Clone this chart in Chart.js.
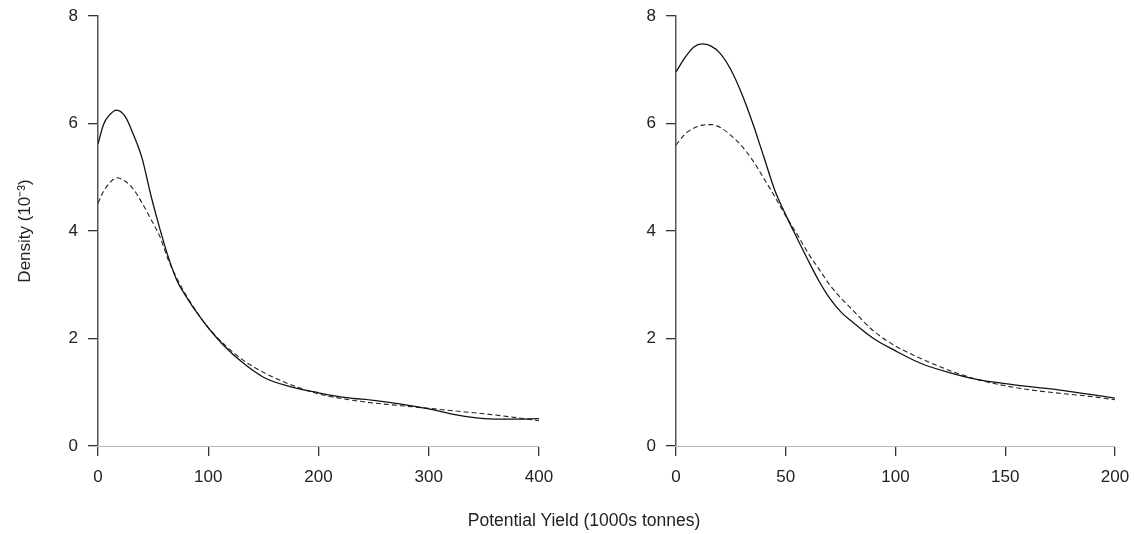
<!DOCTYPE html>
<html>
<head>
<meta charset="utf-8">
<script src="https://cdn.jsdelivr.net/npm/chart.js@4/dist/chart.umd.min.js"></script>
<style>
	body { margin: 0; background: #fff; width: 1135px; height: 534px; position: relative; overflow: hidden; }
	canvas { position: absolute; top: 0; }
	#left { left: 0; }
	#right { left: 560px; }
	#xtitle {
		position: absolute; left: 384px; top: 510px; width: 400px; text-align: center;
		font: 17.5px "Liberation Sans", Arial, sans-serif; color: #222;
	}
</style>
</head>
<body>
<canvas id="left" width="560" height="534"></canvas>
<canvas id="right" width="575" height="534"></canvas>
<div id="xtitle">Potential Yield (1000s tonnes)</div>
<script>
// left panel: yield 0-400
const leftX = [0, 5, 10, 17, 25, 32, 40, 48, 56, 64, 72, 80, 90, 100, 115, 130, 150, 175, 200, 225, 250, 275, 300, 325, 350, 375, 400];
const leftSolid = [5.62, 5.98, 6.15, 6.25, 6.12, 5.8, 5.35, 4.66, 4.05, 3.5, 3.06, 2.78, 2.47, 2.2, 1.85, 1.57, 1.28, 1.1, 0.99, 0.9, 0.85, 0.78, 0.69, 0.58, 0.51, 0.5, 0.51];
const leftDashed = [4.52, 4.74, 4.88, 4.99, 4.92, 4.78, 4.52, 4.22, 3.9, 3.45, 3.1, 2.8, 2.48, 2.2, 1.88, 1.62, 1.37, 1.14, 0.97, 0.87, 0.8, 0.75, 0.7, 0.65, 0.6, 0.54, 0.47];

// right panel: yield 0-200
const rightX = [0, 4, 8, 12, 16, 20, 25, 30, 35, 40, 45, 50, 55, 60, 65, 70, 75, 80, 90, 100, 112, 125, 137, 150, 162, 175, 187, 200];
const rightSolid = [6.96, 7.22, 7.42, 7.48, 7.44, 7.31, 7.0, 6.55, 6.0, 5.38, 4.76, 4.3, 3.88, 3.47, 3.08, 2.75, 2.5, 2.32, 2.0, 1.77, 1.53, 1.36, 1.24, 1.16, 1.1, 1.04, 0.97, 0.89];
const rightDashed = [5.6, 5.8, 5.91, 5.97, 5.98, 5.93, 5.78, 5.58, 5.31, 4.98, 4.64, 4.28, 3.95, 3.6, 3.3, 3.0, 2.76, 2.55, 2.14, 1.86, 1.62, 1.4, 1.24, 1.12, 1.04, 0.98, 0.93, 0.86];

const yTicks = [0, 2, 4, 6, 8];

const font = {family: '"Liberation Sans", Arial, sans-serif', size: 17};
Chart.defaults.color = '#222';
Chart.defaults.font.family = font.family;

const points = (xs, ys) => xs.map((x, i) => ({x: x, y: ys[i]}));

const makeChart = (id, xs, solid, dashed, xMax, xStep, yWidth, padRight, showTitle) => {
	new Chart(document.getElementById(id), {
		type: 'line',
		data: {
			datasets: [
				{
					data: points(xs, solid),
					borderColor: '#111',
					borderWidth: 1.3,
					pointRadius: 0,
					cubicInterpolationMode: 'monotone',
				},
				{
					data: points(xs, dashed),
					borderColor: '#222',
					borderWidth: 1.1,
					borderDash: [5, 3],
					pointRadius: 0,
					cubicInterpolationMode: 'monotone',
				},
			],
		},
		options: {
			responsive: false,
			animation: false,
			layout: {padding: {left: 0, top: 16, right: padRight, bottom: 0}},
			plugins: {legend: {display: false}, tooltip: {enabled: false}},
			scales: {
				x: {
					type: 'linear',
					min: 0,
					max: xMax,
					border: {color: '#bbb', width: 1},
					grid: {drawOnChartArea: false, drawTicks: true, tickLength: 10, color: '#333', lineWidth: 1.3},
					ticks: {stepSize: xStep, padding: 11, font: font, color: '#222', maxRotation: 0},
					afterFit: scale => {
						scale.height = 88;
						scale.paddingLeft = 0;
						scale.paddingRight = 0;
					},
				},
				y: {
					type: 'linear',
					min: 0,
					max: 8,
					border: {color: '#555', width: 1.5},
					grid: {drawOnChartArea: false, drawTicks: true, tickLength: 10, color: '#333', lineWidth: 1.3},
					afterBuildTicks: scale => { scale.ticks = yTicks.map(v => ({value: v})); },
					ticks: {padding: 10, font: font, color: '#222'},
					title: {
						display: showTitle,
						text: 'Density (10⁻³)',
						font: {family: font.family, size: 17},
						color: '#222',
						padding: {top: 15, bottom: 0},
					},
					afterFit: scale => {
						scale.width = yWidth;
						scale.paddingTop = 0;
						scale.paddingBottom = 0;
					},
				},
			},
		},
	});
};

makeChart('left', leftX, leftSolid, leftDashed, 400, 100, 98, 21, true);
makeChart('right', rightX, rightSolid, rightDashed, 200, 50, 116, 20, false);
</script>
</body>
</html>
